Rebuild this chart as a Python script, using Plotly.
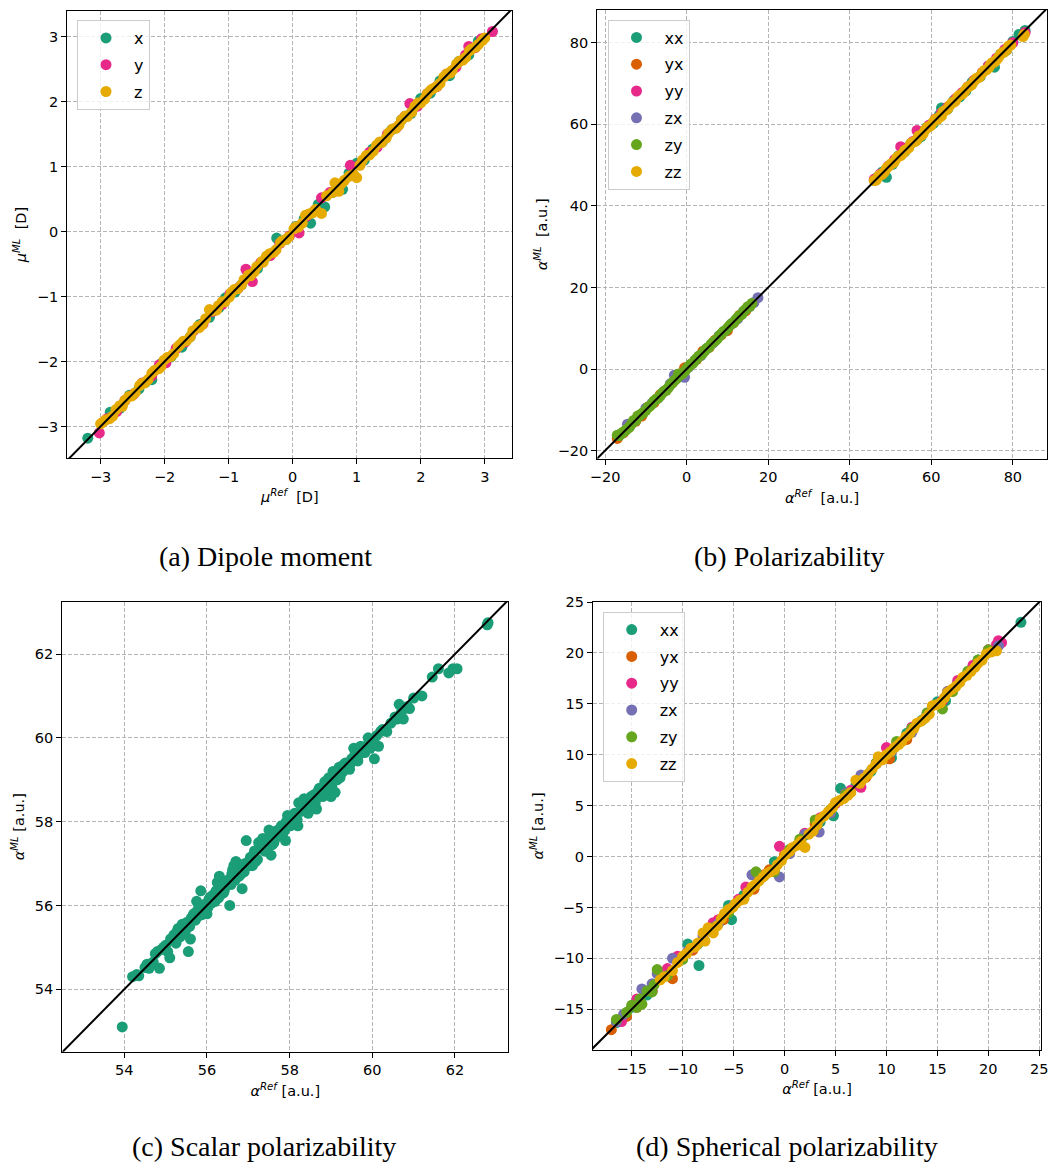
import plotly.graph_objects as go

# ---------------- colours (Dark2) ----------------
C_XX = "#1b9e77"
C_YX = "#d95f02"
C_YY = "#e7298a"
C_ZX = "#7570b3"
C_ZY = "#66a61e"
C_ZZ = "#e6ab02"

# ---------------- (a) Dipole moment ----------------
a_x_ref = [-3.2, -2.85, -2.7, -2.55, -2.4, -2.3, -2.2, -2.05, -1.9, -1.73, -1.6, -1.45, -1.3, -1.15, -1.05,
           -0.9, -0.8, -0.68, -0.55, -0.4, -0.25, -0.1, 0.05, 0.18, 0.28, 0.4, 0.5, 0.62, 0.78, 0.88, 1.0,
           1.12, 1.25, 1.4, 1.55, 1.7, 1.85, 2.0, 2.15, 2.3, 2.45, 2.6, 2.75, 2.9]
a_x_ml = [-3.18, -2.78, -2.72, -2.52, -2.42, -2.32, -2.28, -2.03, -1.93, -1.78, -1.62, -1.43, -1.32, -1.17, -1.02,
          -0.93, -0.82, -0.66, -0.57, -0.38, -0.1, -0.12, 0.08, 0.2, 0.13, 0.42, 0.38, 0.6, 0.65, 0.9, 1.05,
          1.1, 1.27, 1.38, 1.57, 1.72, 1.82, 2.05, 2.13, 2.32, 2.4, 2.62, 2.72, 2.93]
a_y_ref = [-3.02, -2.9, -2.75, -2.62, -2.48, -2.35, -2.2, -2.08, -1.98, -1.82, -1.68, -1.55, -1.4, -1.25, -1.1,
           -0.98, -0.85, -0.73, -0.63, -0.5, -0.35, -0.2, -0.05, 0.1, 0.22, 0.35, 0.45, 0.58, 0.7, 0.9, 1.05,
           1.2, 1.32, 1.48, 1.62, 1.75, 1.83, 1.95, 2.1, 2.25, 2.4, 2.55, 2.7, 2.75, 2.85, 2.95, 3.12]
a_y_ml = [-3.1, -2.88, -2.77, -2.6, -2.5, -2.33, -2.22, -2.05, -2.02, -1.8, -1.7, -1.53, -1.42, -1.23, -1.12,
          -0.96, -0.87, -0.58, -0.77, -0.48, -0.37, -0.18, -0.07, -0.02, 0.24, 0.33, 0.52, 0.6, 0.68, 1.02, 1.03,
          1.22, 1.3, 1.5, 1.6, 1.77, 1.97, 1.93, 2.12, 2.23, 2.42, 2.53, 2.72, 2.85, 2.83, 2.97, 3.08]
a_z_ref = [-3.0, -2.92, -2.81, -2.7, -2.62, -2.51, -2.39, -2.31, -2.2, -2.09, -2.01, -1.9, -1.79, -1.71, -1.6,
           -1.48, -1.41, -1.3, -1.19, -1.1, -0.99, -0.91, -0.8, -0.69, -0.6, -0.48, -0.41, -0.3, -0.19, -0.1,
           0.02, 0.09, 0.2, 0.31, 0.45, 0.53, 0.62, 0.72, 0.81, 0.88, 1.0, 1.09, 1.2, 1.31, 1.39, 1.5, 1.61,
           1.7, 1.79, 1.91, 2.0, 2.1, 2.19, 2.3, 2.41, 2.49, 2.6, 2.7, 2.79, 2.9, 3.0,
           -2.96, -2.86, -2.76, -2.66, -2.56, -2.46, -2.36, -2.26, -2.16, -2.06, -1.96, -1.86, -1.76, -1.66,
           -1.56, -1.46, -1.36, -1.26, -1.16, -1.06, -0.96, -0.86, -0.76, -0.66, -0.56, -0.46, -0.36, -0.26,
           -0.16, -0.06, 0.05, 0.15, 0.25, 0.36, 0.66, 0.76, 0.95, 1.05, 1.15, 1.26, 1.36, 1.46, 1.56, 1.66,
           1.76, 1.86, 1.96, 2.06, 2.16, 2.26, 2.36, 2.46, 2.56, 2.66, 2.76, 2.86, 2.96]
a_z_ml = [-2.96, -2.9, -2.84, -2.68, -2.6, -2.53, -2.37, -2.33, -2.18, -2.11, -1.98, -1.92, -1.77, -1.69, -1.62,
          -1.46, -1.43, -1.2, -1.21, -1.08, -1.01, -0.89, -0.82, -0.67, -0.62, -0.46, -0.38, -0.32, -0.17, -0.12,
          0.04, 0.07, 0.25, 0.29, 0.28, 0.55, 0.6, 0.62, 0.79, 0.85, 0.83, 1.1, 1.18, 1.33, 1.37, 1.52, 1.59,
          1.72, 1.77, 1.93, 1.98, 2.12, 2.2, 2.28, 2.43, 2.48, 2.62, 2.68, 2.81, 2.88, 2.98,
          -2.93, -2.88, -2.74, -2.69, -2.54, -2.48, -2.34, -2.28, -2.14, -2.08, -1.94, -1.88, -1.74, -1.68,
          -1.53, -1.48, -1.34, -1.22, -1.14, -1.08, -0.94, -0.88, -0.74, -0.68, -0.54, -0.47, -0.34, -0.28,
          -0.14, -0.08, 0.07, 0.13, 0.27, 0.34, 0.75, 0.74, 0.88, 1.02, 1.17, 1.24, 1.38, 1.44, 1.58, 1.64,
          1.78, 1.84, 1.98, 2.04, 2.18, 2.24, 2.38, 2.44, 2.58, 2.64, 2.78, 2.84, 2.94]

# ---------------- (b) Polarizability ----------------
b_xx_ref = [46.5, 48.0, 49.0, 50.5, 52.0, 53.5, 55.0, 56.5, 57.5, 59.0, 60.5, 62.0, 62.5, 64.0, 65.5, 67.0,
            68.5, 70.0, 72.0, 74.0, 75.5, 77.0, 78.5, 80.0, 81.5, 83.0]
b_xx_ml = [46.8, 48.3, 47.0, 50.2, 52.3, 53.3, 55.3, 56.2, 57.0, 59.3, 60.2, 62.3, 64.0, 63.7, 65.8, 66.7,
           68.2, 70.3, 71.7, 74.3, 74.0, 77.2, 78.2, 80.3, 82.0, 83.0]
b_yx_ref = [-17.0, -15.5, -14.0, -12.5, -11.0, -9.5, -8.0, -6.5, -5.0, -3.5, -2.0, -0.5, 1.0, 2.5, 4.0, 5.5,
            7.0, 8.5, 10.0, 11.5, 13.0, 14.5]
b_yx_ml = [-17.0, -15.6, -13.8, -12.8, -11.5, -9.3, -8.2, -6.3, -5.1, -3.4, -1.9, 0.3, 1.1, 2.4, 4.4, 5.3,
           7.1, 8.4, 9.4, 11.3, 13.2, 14.3]
b_yy_ref = [46.0, 47.5, 49.5, 51.0, 52.5, 54.0, 55.5, 56.5, 58.0, 59.5, 61.0, 62.5, 64.0, 66.0, 67.5, 69.0,
            70.5, 72.5, 74.0, 76.0, 78.0, 80.0, 83.0]
b_yy_ml = [46.5, 47.8, 49.8, 51.3, 54.5, 54.2, 55.8, 58.5, 58.3, 59.8, 61.3, 62.8, 64.2, 66.3, 67.7, 69.2,
           70.8, 72.7, 74.3, 76.2, 78.3, 80.0, 82.5]
b_zx_ref = [-16.0, -14.5, -13.0, -11.5, -10.0, -8.5, -7.0, -5.5, -4.0, -3.0, -0.5, 0.5, 2.0, 3.5, 5.0, 6.5,
            8.0, 9.5, 11.0, 12.5, 14.0, 15.5, 16.5, 17.5]
b_zx_ml = [-15.8, -13.5, -12.8, -11.3, -9.6, -8.4, -7.1, -5.4, -3.6, -1.5, -2.0, 0.5, 2.1, 3.3, 5.1, 6.4,
           8.2, 9.4, 11.1, 12.3, 14.2, 15.4, 16.3, 17.5]
b_zy_ref = [-17.0, -16.0, -15.0, -14.0, -13.0, -12.0, -11.0, -10.0, -9.0, -8.0, -7.0, -6.0, -5.0, -4.0, -3.0,
            -2.0, -1.0, 0.0, 1.0, 2.0, 3.0, 4.0, 5.0, 6.0, 7.0, 8.0, 9.0, 10.0, 11.0, 12.0, 13.0, 14.0, 15.0, 16.0,
            -16.5, -15.5, -14.5, -13.5, -12.5, -11.5, -10.5, -9.5, -8.5, -7.5, -6.5, -5.5, -4.5, -3.5, -2.5,
            -1.5, -0.5, 0.5, 1.5, 2.5, 3.5, 4.5, 5.5, 6.5, 7.5, 8.5, 9.5, 10.5, 11.5, 12.5, 13.5, 14.5, 15.5]
b_zy_ml = [-16.2, -15.8, -15.1, -14.2, -12.6, -11.5, -10.9, -10.1, -9.1, -7.8, -7.1, -5.9, -5.2, -3.9, -2.8,
           -1.2, -1.1, 0.1, 1.2, 2.1, 3.2, 3.9, 5.1, 6.1, 6.9, 8.1, 9.2, 10.0, 11.1, 12.0, 13.1, 14.2, 15.3, 16.1,
           -16.3, -15.4, -14.6, -13.4, -12.6, -11.4, -10.6, -9.4, -8.6, -7.4, -6.6, -5.4, -4.6, -3.4, -2.4,
           -1.4, -0.6, 0.6, 1.4, 2.6, 3.4, 4.6, 5.4, 6.6, 7.4, 8.6, 9.4, 10.6, 11.4, 12.6, 13.4, 14.6, 15.4]
b_zz_ref = [46.0, 47.1, 47.9, 49.0, 50.1, 50.9, 52.0, 53.1, 53.9, 55.0, 56.1, 56.9, 58.0, 59.1, 59.9, 61.0,
            62.1, 62.9, 64.0, 65.1, 65.9, 67.0, 68.1, 68.9, 70.0, 71.1, 71.9, 73.0, 74.1, 74.9, 76.0, 77.1,
            77.9, 79.0, 82.5,
            46.5, 47.5, 48.5, 49.5, 50.5, 51.5, 52.5, 53.5, 54.5, 55.5, 56.5, 57.5, 58.5, 59.5, 60.5, 61.5,
            62.5, 63.5, 64.5, 65.5, 66.5, 67.5, 68.5, 69.5, 70.5, 71.5, 72.5, 73.5, 74.5, 75.5, 76.5, 77.5,
            78.5, 79.5, 82.8]
b_zz_ml = [46.2, 47.3, 47.7, 49.2, 50.3, 50.7, 52.2, 52.9, 53.7, 55.3, 55.8, 57.1, 57.7, 59.3, 59.7, 61.2,
           61.8, 63.1, 63.8, 65.3, 65.7, 67.2, 67.9, 69.1, 69.8, 71.3, 71.7, 73.2, 73.9, 75.1, 75.8, 77.3,
           77.7, 79.2, 81.5,
           46.3, 47.6, 48.3, 49.7, 50.4, 51.7, 52.3, 53.6, 54.3, 55.6, 56.3, 57.2, 58.6, 59.4, 60.6, 61.2,
           62.0, 63.4, 64.6, 65.4, 66.7, 67.3, 68.6, 69.4, 70.6, 71.4, 72.6, 73.3, 74.6, 75.2, 76.4, 77.6,
           78.3, 79.4, 82.0]

# ---------------- (c) Scalar polarizability ----------------
c_ref = [53.95, 54.2, 54.3, 54.35, 54.5, 54.6, 54.65, 54.75, 54.8, 54.85, 54.9, 55.0, 55.05, 55.1, 55.15,
         55.2, 55.25, 55.3, 55.35, 55.4, 55.45, 55.5, 55.55, 55.6, 55.62, 55.7, 55.75, 55.8, 55.85, 55.9,
         55.95, 56.0, 56.05, 56.1, 56.15, 56.2, 56.25, 56.3, 56.35, 56.4, 56.45, 56.5, 56.55, 56.6, 56.65,
         56.7, 56.75, 56.8, 56.85, 56.9, 56.95, 57.0, 57.05, 57.1, 57.15, 57.2, 57.25, 57.3, 57.35, 57.4,
         57.45, 57.5, 57.55, 57.6, 57.7, 57.75, 57.8, 57.85, 57.9, 57.95, 58.0, 58.05, 58.1, 58.2, 58.22,
         58.3, 58.35, 58.4, 58.45, 58.5, 58.55, 58.6, 58.65, 58.7, 58.8, 58.85, 58.9, 58.95, 59.0, 59.05,
         59.1, 59.15, 59.2, 59.3, 59.4, 59.45, 59.5, 59.55, 59.65, 59.75, 59.85, 59.9, 59.95, 60.05, 60.1,
         60.15, 60.2, 60.35, 60.6, 60.65, 60.75, 60.7, 60.9, 61.0, 61.2, 61.45, 61.6, 61.85, 61.95, 62.05,
         62.8, 62.78,
         55.28, 55.48, 55.68, 55.88, 56.08, 56.28, 56.48, 56.68, 56.88, 57.08, 57.28, 57.48, 57.68, 57.88,
         58.08, 58.28, 58.48, 58.68, 58.88, 59.08, 59.28, 59.48, 59.68, 56.62, 56.78, 57.18, 57.58, 58.58,
         54.55, 54.7, 54.95, 55.12, 55.22, 55.32, 55.42, 55.52, 55.58, 55.66, 55.72, 55.78, 55.92, 55.98,
         56.02, 56.12, 56.18, 56.22, 56.32, 56.38, 56.42, 56.52, 56.58, 56.72, 56.82, 56.92, 57.02, 57.12,
         57.22, 57.32, 57.42, 57.52, 57.62, 57.72, 57.82, 57.92, 58.02, 58.12, 58.18, 58.32, 58.42, 58.52,
         58.62, 58.72, 58.82, 58.92, 59.02, 59.12, 59.22, 59.35, 59.42, 59.58, 59.62, 59.72, 59.82, 60.0,
         60.25, 60.45, 60.55, 60.85]
c_ml = [53.1, 54.3, 54.35, 54.32, 54.52, 54.5, 54.6, 54.85, 54.9, 54.5, 54.95, 55.05, 54.9, 54.75, 55.2,
        55.3, 55.1, 55.45, 55.25, 55.55, 55.35, 55.5, 54.9, 55.2, 55.7, 55.8, 56.1, 55.75, 56.35, 55.95,
        55.85, 55.8, 56.15, 56.05, 56.25, 56.1, 56.55, 56.7, 56.4, 56.3, 56.55, 56.6, 56.0, 56.75, 56.95,
        57.05, 56.7, 56.9, 56.4, 56.8, 57.55, 57.0, 57.15, 56.95, 57.3, 57.1, 57.5, 57.35, 57.6, 57.3,
        57.45, 57.8, 57.2, 57.5, 57.7, 57.65, 57.9, 57.75, 57.55, 58.15, 58.0, 57.95, 58.1, 57.9, 58.45,
        58.25, 58.55, 58.35, 58.2, 58.45, 58.5, 58.65, 58.3, 58.75, 58.6, 58.95, 58.8, 59.05, 58.6, 59.2,
        58.7, 59.0, 59.3, 59.35, 59.3, 59.25, 59.5, 59.75, 59.45, 59.7, 59.8, 60.0, 59.75, 59.5, 60.05,
        59.8, 60.15, 60.15, 60.45, 60.8, 60.45, 60.6, 60.7, 60.95, 61.0, 61.45, 61.65, 61.55, 61.65, 61.65,
        62.75, 62.7,
        55.38, 55.4, 55.8, 55.78, 56.2, 56.18, 56.58, 56.6, 56.98, 56.98, 57.38, 57.4, 57.78, 57.8,
        58.0, 58.38, 58.4, 58.6, 58.78, 59.0, 59.18, 59.4, 59.6, 56.85, 56.7, 57.05, 57.45, 58.5,
        54.6, 54.65, 55.0, 55.2, 55.15, 55.4, 55.35, 55.6, 55.5, 55.75, 55.65, 55.9, 55.85, 56.05,
        55.95, 56.2, 56.1, 56.35, 56.25, 56.5, 56.35, 56.6, 56.5, 56.8, 56.75, 57.0, 56.95, 57.2,
        57.1, 57.4, 57.3, 57.6, 57.5, 57.8, 57.7, 58.0, 57.9, 58.2, 58.05, 58.4, 58.3, 58.6,
        58.45, 58.8, 58.7, 59.0, 58.85, 59.2, 59.05, 59.4, 59.3, 59.6, 59.5, 59.8, 59.65, 59.95,
        60.2, 60.35, 60.5, 60.75]

# ---------------- (d) Spherical polarizability ----------------
d_xx_ref = [-16.5, -15.0, -13.5, -12.0, -10.5, -9.5, -8.4, -7.0, -5.5, -5.2, -4.0, -2.5, -1.0, 0.5, 2.0, 3.5,
            4.8, 5.5, 7.0, 8.5, 10.5, 12.0, 13.5, 15.0, 15.8, 17.0, 18.5, 19.0, 20.0, 23.2]
d_xx_ml = [-16.3, -14.8, -13.6, -11.8, -10.3, -8.6, -10.7, -6.8, -4.8, -6.2, -3.8, -2.3, -0.5, 0.6, 2.1, 3.4,
           4.0, 6.7, 7.0, 8.4, 9.7, 12.1, 13.4, 15.2, 15.3, 17.1, 18.6, 19.3, 20.1, 23.0]
d_yx_ref = [-17.0, -15.5, -14.5, -13.0, -11.0, -9.0, -7.5, -6.0, -4.5, -3.0, -1.5, 0.0, 1.5, 3.0, 4.5, 6.0,
            8.0, 10.3, 12.0, 14.0, 16.0]
d_yx_ml = [-17.0, -15.7, -14.8, -13.2, -12.0, -9.2, -7.2, -6.2, -4.3, -3.2, -1.3, 0.2, 1.4, 3.2, 4.3, 6.2,
           7.8, 9.6, 11.5, 14.0, 16.2]
d_yy_ref = [-16.0, -14.5, -13.0, -11.5, -10.5, -9.0, -7.0, -6.5, -4.5, -3.8, -2.0, -0.5, 0.5, 2.0, 3.5, 5.0,
            6.5, 7.5, 9.0, 10.0, 11.0, 12.5, 14.0, 15.5, 17.0, 18.5, 20.0, 20.8, 21.0, 21.3]
d_yy_ml = [-16.2, -14.0, -13.2, -11.0, -9.8, -9.0, -6.5, -6.2, -4.2, -3.0, -1.8, 1.0, 0.4, 2.3, 3.8, 5.2,
           6.5, 6.8, 9.2, 10.7, 11.0, 12.7, 13.9, 15.3, 17.3, 18.8, 20.3, 20.8, 21.2, 21.0]
d_zx_ref = [-16.5, -15.8, -14.0, -13.0, -12.5, -11.0, -9.5, -8.0, -6.5, -5.0, -3.2, -2.0, -0.5, 0.5, 2.0, 3.4,
            4.5, 6.0, 7.5, 9.0, 10.5, 12.5, 14.0, 16.0, 18.0, 20.0, 21.0]
d_zx_ml = [-16.2, -15.5, -13.0, -12.5, -11.5, -10.0, -9.3, -7.8, -6.6, -4.8, -1.8, -1.9, -2.0, 0.3, 2.2, 2.4,
           4.3, 6.2, 8.0, 9.1, 10.3, 12.2, 14.1, 16.2, 18.1, 20.2, 20.7]
d_zy_ref = [-16.5, -15.5, -14.5, -14.0, -13.0, -12.5, -11.5, -10.0, -8.5, -7.0, -5.5, -4.0, -2.8, -1.0, 0.5,
            1.5, 3.0, 4.5, 6.0, 7.5, 9.0, 11.0, 12.5, 14.0, 15.5, 16.5, 18.0, 19.0, 20.0,
            -15.0, -14.2, -13.5, -12.8]
d_zy_ml = [-16.0, -15.3, -14.8, -14.5, -13.3, -11.1, -11.7, -10.1, -8.6, -7.0, -5.5, -4.1, -1.5, -1.5, 0.7,
           1.7, 3.6, 4.6, 6.1, 7.4, 9.2, 11.3, 12.6, 14.1, 14.5, 16.2, 18.2, 19.3, 20.3,
           -14.6, -14.0, -13.2, -12.6]
d_zz_ref = [-11.8, -11.0, -10.0, -9.2, -8.5, -8.0, -7.8, -7.5, -7.0, -6.2, -5.5,
            -4.8, -4.0, -3.2, -2.5, -1.8, -1.0, -0.3, 0.5, 1.2, 2.0, 2.8, 3.5, 4.3, 5.0, 5.8, 6.5, 7.0, 7.8,
            8.6, 9.2, 10.0, 10.8, 11.5, 12.3, 13.0, 13.8, 14.5, 15.3, 16.0, 16.8, 17.5, 18.3, 19.0, 19.8, 20.8,
            -12.2, -10.5, -9.6, -8.8, -6.6, -5.9, -5.1, -4.4, -3.6, -2.9, -2.1, -1.4,
            -0.7, 0.1, 0.8, 1.6, 2.4, 3.2, 3.9, 4.7, 5.4, 6.2, 7.4, 8.2, 9.0, 9.6, 10.4, 11.2, 11.9, 12.7,
            13.4, 14.2, 14.9, 15.7, 16.4, 17.2, 17.9, 18.7, 19.4, 20.3]
d_zz_ml = [-11.8, -11.2, -9.8, -9.0, -8.5, -7.5, -8.3, -7.0, -7.5, -6.1, -5.2,
           -4.6, -4.2, -3.0, -2.4, -1.7, -1.3, -0.4, 0.5, 1.1, 0.9, 2.5, 3.7, 4.4, 5.3, 5.7, 6.3, 7.5, 7.7,
           8.6, 9.8, 10.0, 10.7, 11.3, 12.1, 13.1, 13.6, 14.8, 15.1, 16.1, 16.7, 17.6, 18.2, 19.0, 19.9, 20.2,
           -12.1, -10.4, -9.5, -8.9, -6.8, -5.6, -5.0, -4.3, -3.5, -2.8, -2.0, -1.5,
           -0.8, 0.2, 0.9, 1.5, 2.2, 3.1, 4.0, 4.8, 5.5, 6.0, 7.2, 8.1, 9.1, 9.5, 10.3, 11.0, 11.8, 12.6,
           13.3, 14.0, 14.9, 15.6, 16.4, 17.1, 17.8, 18.6, 19.3, 20.1]

# identity-line end points per panel
diag_a = [-3.7, 3.6]
diag_b = [-23.0, 90.0]
diag_c = [52.3, 63.5]
diag_d = [-19.5, 25.5]

# captions
caption_a = "(a) Dipole moment"
caption_b = "(b) Polarizability"
caption_c = "(c) Scalar polarizability"
caption_d = "(d) Spherical polarizability"

W, H = 1051, 1162
MS = 11
TICKFONT = dict(family="DejaVu Sans", size=14.5, color="black")
TITLEFONT = dict(family="DejaVu Sans", size=14.5, color="black")

fig = go.Figure()


def add_pts(x, y, name, color, xa, ya, legend, show=True):
    fig.add_trace(go.Scatter(
        x=x, y=y, mode="markers", name=name,
        marker=dict(color=color, size=MS, line=dict(width=0)),
        xaxis=xa, yaxis=ya, legend=legend, showlegend=show, legendgroup=legend + name,
    ))


def add_diag(d, xa, ya):
    fig.add_trace(go.Scatter(x=d, y=d, mode="lines", line=dict(color="black", width=2),
                             xaxis=xa, yaxis=ya, showlegend=False, hoverinfo="skip"))


# (a)
add_pts(a_x_ref, a_x_ml, "x", C_XX, "x", "y", "legend")
add_pts(a_y_ref, a_y_ml, "y", C_YY, "x", "y", "legend")
add_pts(a_z_ref, a_z_ml, "z", C_ZZ, "x", "y", "legend")
add_diag(diag_a, "x", "y")

# (b)
add_pts(b_xx_ref, b_xx_ml, "xx", C_XX, "x2", "y2", "legend2")
add_pts(b_yx_ref, b_yx_ml, "yx", C_YX, "x2", "y2", "legend2")
add_pts(b_yy_ref, b_yy_ml, "yy", C_YY, "x2", "y2", "legend2")
add_pts(b_zx_ref, b_zx_ml, "zx", C_ZX, "x2", "y2", "legend2")
add_pts(b_zy_ref, b_zy_ml, "zy", C_ZY, "x2", "y2", "legend2")
add_pts(b_zz_ref, b_zz_ml, "zz", C_ZZ, "x2", "y2", "legend2")
add_diag(diag_b, "x2", "y2")

# (c)
add_pts(c_ref, c_ml, "scalar", C_XX, "x3", "y3", "legend", show=False)
add_diag(diag_c, "x3", "y3")

# (d)
add_pts(d_xx_ref, d_xx_ml, "xx", C_XX, "x4", "y4", "legend3")
add_pts(d_yx_ref, d_yx_ml, "yx", C_YX, "x4", "y4", "legend3")
add_pts(d_yy_ref, d_yy_ml, "yy", C_YY, "x4", "y4", "legend3")
add_pts(d_zx_ref, d_zx_ml, "zx", C_ZX, "x4", "y4", "legend3")
add_pts(d_zy_ref, d_zy_ml, "zy", C_ZY, "x4", "y4", "legend3")
add_pts(d_zz_ref, d_zz_ml, "zz", C_ZZ, "x4", "y4", "legend3")
add_diag(diag_d, "x4", "y4")


def axis(domain, rng, dtick, title, anchor, standoff):
    return dict(
        domain=domain, range=rng, dtick=dtick, tick0=0, anchor=anchor,
        showline=True, mirror=True, linecolor="black", linewidth=1.2,
        ticks="outside", ticklen=5, tickwidth=1.2, tickcolor="black",
        showgrid=True, gridcolor="#b5b5b5", griddash="4px,2px", gridwidth=1,
        zeroline=False, tickfont=TICKFONT, automargin=False,
        title=dict(text=title, font=TITLEFONT, standoff=standoff),
    )


def px(v):
    return v / W


def py(v):
    return 1 - v / H


mu_ref = "<i>μ</i><sup><i>Ref</i></sup>  [D]"
mu_ml = "<i>μ</i><sup><i>ML</i></sup>  [D]"
al_ref2 = "<i>α</i><sup><i>Ref</i></sup>  [a.u.]"
al_ml2 = "<i>α</i><sup><i>ML</i></sup>  [a.u.]"
al_ref = "<i>α</i><sup><i>Ref</i></sup> [a.u.]"
al_ml = "<i>α</i><sup><i>ML</i></sup> [a.u.]"

leg_common = dict(
    xanchor="left", yanchor="top", bgcolor="rgba(255,255,255,0.8)",
    bordercolor="#cccccc", borderwidth=1,
    font=dict(family="DejaVu Sans", size=16, color="black"),
    itemsizing="trace", tracegroupgap=3, itemwidth=46,
)

fig.update_layout(
    width=W, height=H,
    margin=dict(l=0, r=0, t=0, b=0),
    paper_bgcolor="white", plot_bgcolor="white",
    xaxis=axis([px(67.3), px(512.3)], [-3.52, 3.43], 1, mu_ref, "y", 8),
    yaxis=axis([py(458.3), py(10.7)], [-3.49, 3.40], 1, mu_ml, "x", 6),
    xaxis2=axis([px(597.3), px(1046.7)], [-21.9, 88.3], 20, al_ref2, "y2", 8),
    yaxis2=axis([py(458.7), py(10.0)], [-21.96, 88.0], 20, al_ml2, "x2", 6),
    xaxis3=axis([px(62.3), px(508.3)], [52.5, 63.29], 2, al_ref, "y3", 8),
    yaxis3=axis([py(1051.7), py(601.7)], [52.51, 63.25], 2, al_ml, "x3", 6),
    xaxis4=axis([px(593.0), px(1041.0)], [-18.8, 25.17], 5, al_ref, "y4", 8),
    yaxis4=axis([py(1050.0), py(602.0)], [-19.0, 25.0], 5, al_ml, "x4", 6),
    legend=dict(x=px(77), y=py(20), **leg_common),
    legend2=dict(x=px(607.5), y=py(19.5), **leg_common),
    legend3=dict(x=px(602.7), y=py(611.7), **leg_common),
    font=dict(family="DejaVu Sans", color="black"),
)

cap_font = dict(family="Liberation Serif", size=28, color="black")
for txt, cx, cy in [(caption_a, 265, 556), (caption_b, 789, 556),
                    (caption_c, 264, 1146), (caption_d, 787, 1146)]:
    fig.add_annotation(text=txt, x=px(cx), y=py(cy), xref="paper", yref="paper",
                       showarrow=False, xanchor="center", yanchor="middle", font=cap_font)

fig.write_html("out.html", config={"displayModeBar": False},
               post_script="document.body.style.margin='0';")
